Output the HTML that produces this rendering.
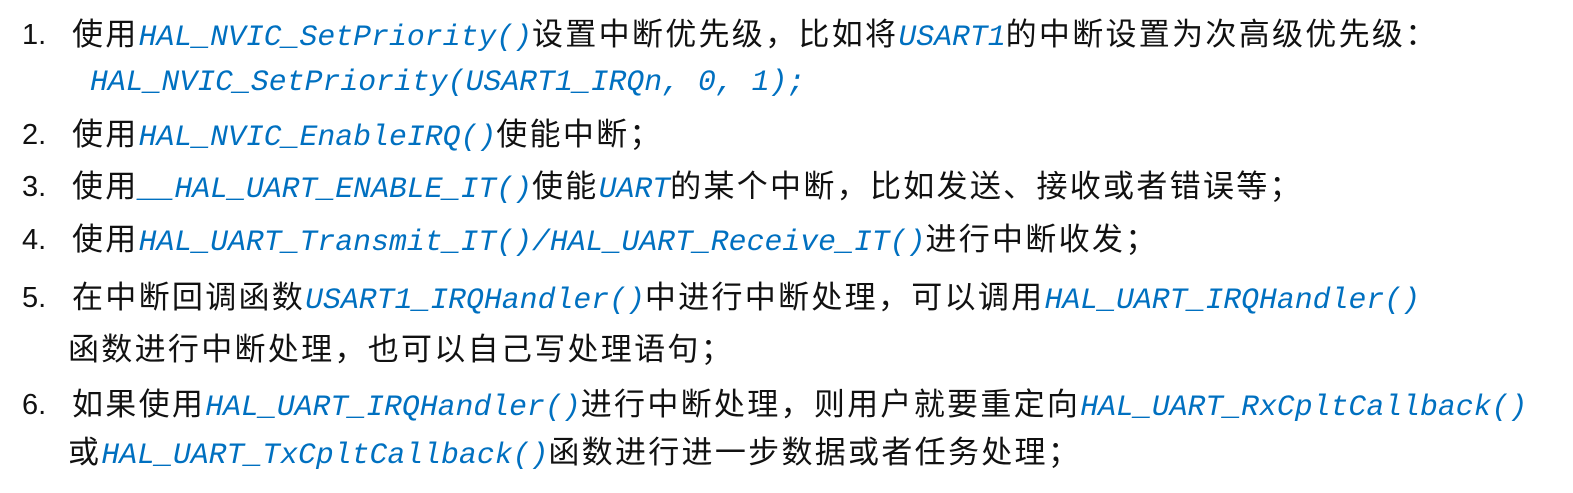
<!DOCTYPE html>
<html><head><meta charset="utf-8"><style>
html,body{margin:0;padding:0;background:#fff;width:1573px;height:493px;overflow:hidden}
.l{position:absolute;white-space:nowrap;font-family:"Liberation Sans","Noto Sans CJK SC",sans-serif;font-size:31px;color:#111;line-height:40px;height:40px}
.c{letter-spacing:2.3px}
.m{font-family:"Liberation Mono",monospace;font-style:italic;font-size:29.8px;color:#0070c0;letter-spacing:0}
.n{position:absolute;font-family:"Liberation Sans",sans-serif;font-size:29px;color:#111;line-height:40px}
</style></head><body>
<div class="n" style="left:22px;top:15px">1.</div>
<div class="l" style="left:72px;top:15px"><span class="c">使用</span><span class="m">HAL_NVIC_SetPriority()</span><span class="c">设置中断优先级，比如将</span><span class="m">USART1</span><span class="c">的中断设置为次高级优先级：</span></div>
<div class="l" style="left:90px;top:60px"><span class="m">HAL_NVIC_SetPriority(USART1_IRQn, 0, 1);</span></div>
<div class="n" style="left:22px;top:115px">2.</div>
<div class="l" style="left:72px;top:115px"><span class="c">使用</span><span class="m">HAL_NVIC_EnableIRQ()</span><span class="c">使能中断；</span></div>
<div class="n" style="left:22px;top:167px">3.</div>
<div class="l" style="left:72px;top:167px"><span class="c">使用</span><span class="m">__HAL_UART_ENABLE_IT()</span><span class="c">使能</span><span class="m">UART</span><span class="c">的某个中断，比如发送、接收或者错误等；</span></div>
<div class="n" style="left:22px;top:220px">4.</div>
<div class="l" style="left:72px;top:220px"><span class="c">使用</span><span class="m">HAL_UART_Transmit_IT()/HAL_UART_Receive_IT()</span><span class="c">进行中断收发；</span></div>
<div class="n" style="left:22px;top:278px">5.</div>
<div class="l" style="left:72px;top:278px"><span class="c">在中断回调函数</span><span class="m">USART1_IRQHandler()</span><span class="c">中进行中断处理，可以调用</span><span class="m">HAL_UART_IRQHandler()</span></div>
<div class="l" style="left:68px;top:330px"><span class="c">函数进行中断处理，也可以自己写处理语句；</span></div>
<div class="n" style="left:22px;top:385px">6.</div>
<div class="l" style="left:72px;top:385px"><span class="c">如果使用</span><span class="m">HAL_UART_IRQHandler()</span><span class="c">进行中断处理，则用户就要重定向</span><span class="m">HAL_UART_RxCpltCallback()</span></div>
<div class="l" style="left:68px;top:433px"><span class="c">或</span><span class="m">HAL_UART_TxCpltCallback()</span><span class="c">函数进行进一步数据或者任务处理；</span></div>
</body></html>
